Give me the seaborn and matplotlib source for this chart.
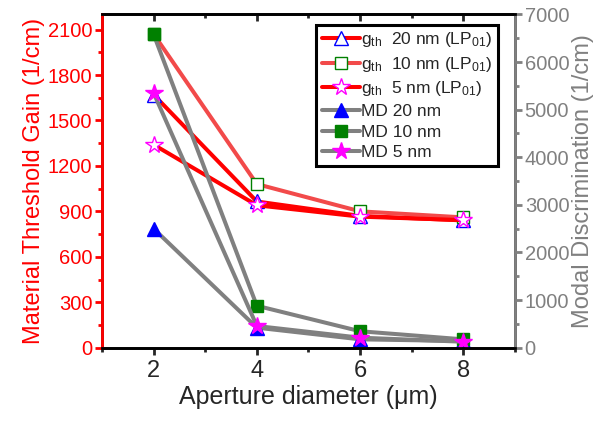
import pandas as pd
import matplotlib
matplotlib.use("Agg")
import matplotlib.pyplot as plt
from matplotlib.ticker import MultipleLocator
import seaborn as sns

# data
aperture = [2, 4, 6, 8]
gth_20nm = [1670, 965, 870, 840]
gth_10nm = [2070, 1080, 900, 860]
gth_5nm = [1340, 940, 865, 842]
md_20nm = [2500, 420, 175, 140]
md_10nm = [6580, 880, 345, 175]
md_5nm = [5350, 455, 210, 125]

sns.set_style("ticks")
plt.rcParams['font.family'] = ['Liberation Sans', 'DejaVu Sans']
plt.rcParams['mathtext.fontset'] = 'custom'
plt.rcParams['mathtext.rm'] = 'Liberation Sans'
plt.rcParams['mathtext.it'] = 'Liberation Sans:italic'

fig = plt.figure(figsize=(6.13, 4.24), dpi=100)
ax = fig.add_axes([0.1664, 0.18, 0.6737, 0.786])
ax2 = ax.twinx()

lw = 2.9
ms = 10

gth = pd.DataFrame({'d': aperture, 'g20': gth_20nm, 'g10': gth_10nm, 'g5': gth_5nm})
md = pd.DataFrame({'d': aperture, 'm20': md_20nm, 'm10': md_10nm, 'm5': md_5nm})

# threshold gain (left axis)
sns.lineplot(data=gth, x='d', y='g20', ax=ax, color='#FF0000', lw=lw, marker='^', ms=ms,
             mfc='white', mec='#0000FF', mew=1.0, label=r'g$_{\rm th}$  20 nm (LP$_{01}$)')
sns.lineplot(data=gth, x='d', y='g10', ax=ax, color='#F24A4A', lw=lw, marker='s', ms=ms - 1,
             mfc='white', mec='#008000', mew=1.0, label=r'g$_{\rm th}$  10 nm (LP$_{01}$)')
sns.lineplot(data=gth, x='d', y='g5', ax=ax, color='#FF0000', lw=lw, marker='*', ms=ms + 3,
             mfc='white', mec='#FF00FF', mew=1.0, label=r'g$_{\rm th}$  5 nm (LP$_{01}$)')

# modal discrimination (right axis)
sns.lineplot(data=md, x='d', y='m20', ax=ax2, color='#808080', lw=lw, marker='^', ms=ms,
             mfc='#0000FF', mec='#0000FF', mew=1.0, label='MD 20 nm')
sns.lineplot(data=md, x='d', y='m10', ax=ax2, color='#808080', lw=lw, marker='s', ms=ms - 1,
             mfc='#008000', mec='#008000', mew=1.0, label='MD 10 nm')
sns.lineplot(data=md, x='d', y='m5', ax=ax2, color='#808080', lw=lw, marker='*', ms=ms + 3,
             mfc='#FF00FF', mec='#FF00FF', mew=1.0, label='MD 5 nm')

ax.set_xlim(1, 9)
ax.set_ylim(0, 2200)
ax2.set_ylim(0, 7000)

ax.xaxis.set_major_locator(MultipleLocator(2))
ax.xaxis.set_minor_locator(MultipleLocator(1))
ax.yaxis.set_major_locator(MultipleLocator(300))
ax.yaxis.set_minor_locator(MultipleLocator(150))
ax2.yaxis.set_major_locator(MultipleLocator(1000))
ax2.yaxis.set_minor_locator(MultipleLocator(500))

ax.set_xlabel('Aperture diameter (μm)', fontsize=18, labelpad=2)
ax.set_ylabel('Material Threshold Gain (1/cm)', fontsize=17, color='#FF0000', labelpad=2)
ax2.set_ylabel('Modal Discrimination (1/cm)', fontsize=17, color='#808080', labelpad=2)

for sp in ax.spines.values():
    sp.set_linewidth(2)
for sp in ax2.spines.values():
    sp.set_linewidth(2)
ax2.spines['left'].set_color('#FF0000')
ax2.spines['right'].set_color('#808080')
ax2.spines['bottom'].set_color('black')
ax2.spines['top'].set_color('black')

ax.tick_params(axis='x', which='major', direction='out', length=5, width=2, labelsize=17, pad=4)
ax.tick_params(axis='x', which='minor', direction='out', length=3, width=2)
ax.tick_params(axis='y', which='major', direction='out', length=5, width=2, colors='#FF0000',
               labelsize=14.5, pad=2)
ax.tick_params(axis='y', which='minor', direction='out', length=3, width=2, colors='#FF0000')
ax2.tick_params(axis='y', which='major', direction='out', length=5, width=2, colors='#808080',
                labelsize=14.5, pad=2)
ax2.tick_params(axis='y', which='minor', direction='out', length=3, width=2, colors='#808080')

top = ax.secondary_xaxis('top')
top.xaxis.set_major_locator(MultipleLocator(2))
top.xaxis.set_minor_locator(MultipleLocator(1))
top.tick_params(which='major', direction='in', length=5, width=2, labeltop=False)
top.tick_params(which='minor', direction='in', length=3, width=2)
top.spines['top'].set_linewidth(2)

h1, l1 = ax.get_legend_handles_labels()
h2, l2 = ax2.get_legend_handles_labels()
if ax.get_legend() is not None:
    ax.get_legend().remove()
leg = ax2.legend(h1 + h2, l1 + l2, loc='upper right', bbox_to_anchor=(0.812, 0.941),
                 bbox_transform=fig.transFigure, fontsize=12.5, frameon=True, fancybox=False,
                 handlelength=2.2, handletextpad=0.1, labelspacing=0.32, borderpad=0.3,
                 borderaxespad=0)
leg.get_frame().set_edgecolor('black')
leg.get_frame().set_linewidth(2.2)
leg.get_frame().set_alpha(1)

fig.savefig('out.png', dpi=100)
